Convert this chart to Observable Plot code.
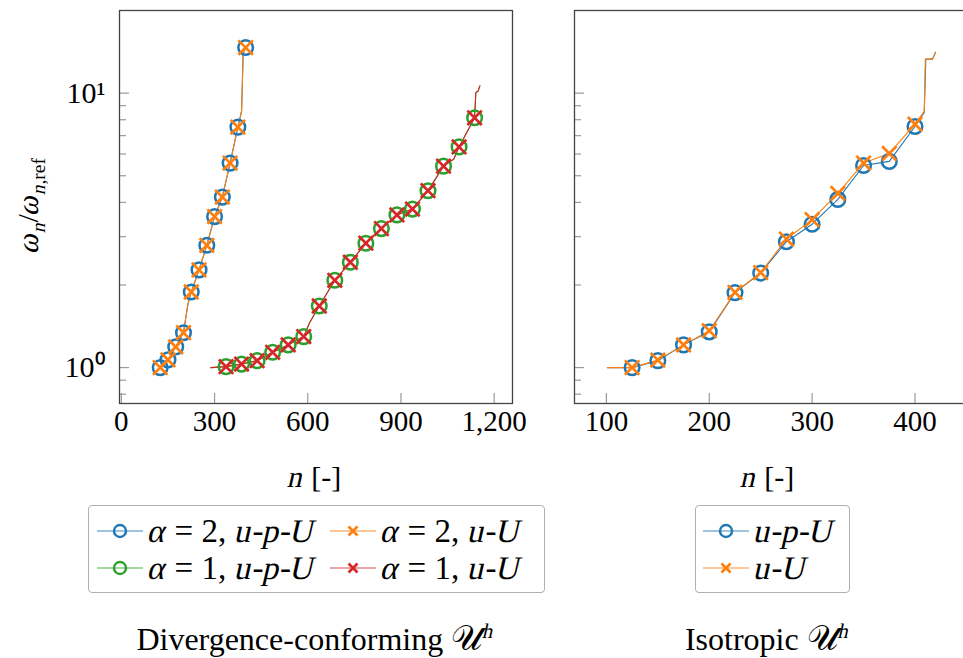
<!DOCTYPE html>
<html>
<head>
<meta charset="utf-8">
<script src="https://cdn.jsdelivr.net/npm/d3@7"></script>
<script src="https://cdn.jsdelivr.net/npm/@observablehq/plot@0.6"></script>
<style>
  html, body { margin: 0; padding: 0; background: #fff; }
  body { width: 963px; height: 658px; overflow: hidden; position: relative; font-family: "Liberation Serif", serif; color: #000; }
  #wrap { position: absolute; left: 0; top: 0; width: 963px; height: 658px; overflow: hidden; }
  .panel { position: absolute; top: 0; }
  .lbl { position: absolute; font-size: 28px; white-space: nowrap; }
  .legend { position: absolute; border: 1px solid #b0b0b0; border-radius: 4px; background: #fff; }
  .entry { position: absolute; height: 34px; display: flex; align-items: center; font-size: 33px; white-space: nowrap; }
  .entry svg { margin-right: 6px; }
  /* math italic: the serif italic face is not installed, so slant the upright serif */
  i { font-style: normal; display: inline-block; transform: skewX(-13deg); }
  sub, sup { font-size: 65%; }
  .eq { margin: 0 0.25em; }
  .cm { margin-right: 0.3em; }
</style>
</head>
<body>
<div id="wrap"></div>
<script>
// ---------------- data ----------------
// Divergence-conforming, alpha = 2 (markers)
const a2_n      = [125, 150, 175, 200, 225, 250, 275, 300, 325, 350, 375, 400];
const a2_upU    = [1.00, 1.067, 1.19, 1.34, 1.886, 2.27, 2.79, 3.55, 4.18, 5.56, 7.52, 14.66];
const a2_uU     = [1.00, 1.067, 1.19, 1.34, 1.886, 2.27, 2.79, 3.55, 4.18, 5.56, 7.52, 14.66];
// alpha = 2 curve (full eigenvalue curve)
const a2_line_n = [124, 150, 175, 200, 214, 225, 250, 275, 300, 325, 350, 375, 387, 392, 400];
const a2_line_w = [1.00, 1.067, 1.19, 1.34, 1.70, 1.886, 2.27, 2.79, 3.55, 4.18, 5.56, 7.52, 8.6, 13.9, 14.66];
// Divergence-conforming, alpha = 1 (markers)
const a1_n      = [337, 387, 437, 487, 537, 587, 637, 687, 737, 787, 837, 887, 937, 987, 1037, 1087, 1137];
const a1_upU    = [1.008, 1.03, 1.06, 1.137, 1.21, 1.297, 1.677, 2.08, 2.42, 2.84, 3.21, 3.60, 3.78, 4.41, 5.42, 6.37, 8.13];
const a1_uU     = [1.008, 1.03, 1.06, 1.137, 1.21, 1.297, 1.677, 2.08, 2.42, 2.84, 3.21, 3.60, 3.78, 4.41, 5.42, 6.37, 8.13];
// alpha = 1 curve
const a1_line_n = [288, 337, 387, 437, 487, 537, 587, 605, 637, 687, 737, 787, 837, 887, 937, 987, 1037, 1070, 1087, 1137, 1141, 1148, 1154];
const a1_line_w = [1.00, 1.008, 1.03, 1.06, 1.137, 1.21, 1.297, 1.45, 1.677, 2.08, 2.42, 2.84, 3.21, 3.60, 3.78, 4.41, 5.42, 5.75, 6.37, 8.13, 10.05, 10.15, 10.63];
// Isotropic (markers)
const iso_n     = [125, 150, 175, 200, 225, 250, 275, 300, 325, 350, 375, 400];
const iso_upU   = [1.00, 1.06, 1.21, 1.35, 1.875, 2.21, 2.875, 3.33, 4.10, 5.45, 5.64, 7.56];
const iso_uU    = [1.00, 1.065, 1.21, 1.363, 1.88, 2.22, 2.94, 3.46, 4.31, 5.56, 6.03, 7.71];
// Isotropic curves
const iso_upU_line_n = [101, 125, 150, 175, 200, 225, 250, 275, 300, 325, 350, 375, 400, 409, 410.5, 417, 420];
const iso_upU_line_w = [1.00, 1.00, 1.06, 1.21, 1.35, 1.875, 2.21, 2.875, 3.33, 4.10, 5.45, 5.64, 7.56, 8.5, 13.3, 13.3, 14.1];
const iso_uU_line_n  = [101, 125, 150, 175, 200, 225, 250, 275, 300, 325, 350, 375, 400, 409, 410, 417, 420];
const iso_uU_line_w  = [1.00, 1.00, 1.065, 1.21, 1.363, 1.88, 2.22, 2.94, 3.46, 4.31, 5.56, 6.03, 7.71, 8.6, 13.3, 13.3, 14.1];

const leftXTicks  = [0, 300, 600, 900, 1200];
const rightXTicks = [100, 200, 300, 400];
const yMajor = [1, 10];
const yMinor = [0.8, 0.9, 2, 3, 4, 5, 6, 7, 8, 9];
const yMajorLabels = ["10\u2070", "10\u00b9"];

const C = { blue: "#1f77b4", orange: "#ff7f0e", green: "#2ca02c", red: "#d62728" };

const zip = (xs, ys) => xs.map((x, i) => ({ n: x, w: ys[i] }));

// ---------------- geometry ----------------
const H = 460, MT = 10, MB = 57;
const innerH = H - MT - MB;

function panel({ width, ml, mr, xDomain, xTicks, xFormat, showYLabels, marks }) {
  const innerW = width - ml - mr;
  return Plot.plot({
    width, height: H, marginLeft: ml, marginRight: mr, marginTop: MT, marginBottom: MB,
    style: { fontFamily: "'Liberation Serif', serif", background: "transparent", overflow: "visible", color: "#000" },
    x: { domain: xDomain },
    y: { type: "log", domain: [0.74, 20] },
    marks: [
      Plot.ruleX(xTicks, { stroke: "#9a9a9a", strokeWidth: 1.2, insetTop: innerH - 10 }),
      Plot.ruleY(yMajor, { stroke: "#9a9a9a", strokeWidth: 1.2, insetRight: innerW - 10 }),
      Plot.ruleY(yMinor, { stroke: "#9a9a9a", strokeWidth: 1.2, insetRight: innerW - 7 }),
      ...marks,
      Plot.frame({ stroke: "#444", strokeWidth: 1.3 }),
      Plot.axisX(xTicks, { tickSize: 0, tickPadding: 7, tickFormat: xFormat, fontSize: 29, label: null }),
      showYLabels
        ? Plot.axisY(yMajor, { tickSize: 0, tickPadding: 14, tickFormat: d => yMajorLabels[yMajor.indexOf(d)], fontSize: 30, label: null })
        : Plot.axisY(yMajor, { tickSize: 0, tickFormat: () => "", label: null })
    ]
  });
}

const circ = (data, color) => Plot.dot(data, { x: "n", y: "w", r: 7.3, stroke: color, strokeWidth: 2.5, fill: "none" });
const times = (data, color) => Plot.dot(data, { x: "n", y: "w", r: 6.6, symbol: "times", stroke: color, strokeWidth: 2.7 });
const line = (data, color) => Plot.line(data, { x: "n", y: "w", stroke: color, strokeWidth: 1.1 });

const left = panel({
  width: 530, ml: 119, mr: 18, xDomain: [-6, 1259], xTicks: leftXTicks, xFormat: d3.format(","), showYLabels: true,
  marks: [
    line(zip(a2_line_n, a2_line_w), C.blue),
    line(zip(a2_line_n, a2_line_w), C.orange),
    line(zip(a1_line_n, a1_line_w), C.green),
    line(zip(a1_line_n, a1_line_w), C.red),
    circ(zip(a2_n, a2_upU), C.blue),
    times(zip(a2_n, a2_uU), C.orange),
    circ(zip(a1_n, a1_upU), C.green),
    times(zip(a1_n, a1_uU), C.red)
  ]
});

const right = panel({
  width: 540, ml: 114, mr: 32, xDomain: [69, 452], xTicks: rightXTicks, xFormat: d3.format("d"), showYLabels: false,
  marks: [
    line(zip(iso_upU_line_n, iso_upU_line_w), C.blue),
    line(zip(iso_uU_line_n, iso_uU_line_w), C.orange),
    circ(zip(iso_n, iso_upU), C.blue),
    times(zip(iso_n, iso_uU), C.orange)
  ]
});

const wrap = document.getElementById("wrap");
left.classList.add("panel"); left.style.left = "0px";
right.classList.add("panel"); right.style.left = "460px";
wrap.appendChild(left);
wrap.appendChild(right);

// ---------------- labels ----------------
function addLabel(html, x, y, opts = {}) {
  const d = document.createElement("div");
  d.className = "lbl";
  d.innerHTML = html;
  d.style.left = x + "px";
  d.style.top = y + "px";
  if (opts.size) d.style.fontSize = opts.size + "px";
  d.style.transform = opts.rotate ? "translate(-50%,-50%) rotate(-90deg)" : "translate(-50%,-50%)";
  wrap.appendChild(d);
}
const scriptU = '<span style="font-size:108%">𝒰</span>';
addLabel('<i>ω</i><sub><i>n</i></sub>/<i>ω</i><sub><i>n</i>,ref</sub>', 30, 205, { rotate: true, size: 30 });
addLabel('<i>n</i> [-]', 315, 477, { size: 30 });
addLabel('<i>n</i> [-]', 768, 477, { size: 30 });
addLabel('Divergence-conforming ' + scriptU + '<sup><i>h</i></sup>', 315, 639, { size: 32 });
addLabel('Isotropic ' + scriptU + '<sup><i>h</i></sup>', 767, 639, { size: 32 });

// ---------------- legends ----------------
function swatch(color, symbol) {
  const s = d3.create("svg").attr("width", 46).attr("height", 20);
  s.append("line").attr("x1", 0).attr("x2", 46).attr("y1", 10).attr("y2", 10).attr("stroke", color).attr("stroke-width", 1.2).attr("opacity", 0.85);
  if (symbol === "circle") {
    s.append("circle").attr("cx", 23).attr("cy", 10).attr("r", 6).attr("fill", "none").attr("stroke", color).attr("stroke-width", 2.4);
  } else {
    s.append("path").attr("d", "M18.5,5.5L27.5,14.5M27.5,5.5L18.5,14.5").attr("stroke", color).attr("stroke-width", 2.6);
  }
  return s.node();
}
function legend(box, entries) {
  const L = document.createElement("div");
  L.className = "legend";
  Object.assign(L.style, { left: box.x + "px", top: box.y + "px", width: box.w + "px", height: box.h + "px" });
  entries.forEach(e => {
    const d = document.createElement("div");
    d.className = "entry";
    d.style.left = e.x + "px";
    d.style.top = e.y + "px";
    d.appendChild(swatch(e.color, e.symbol));
    const t = document.createElement("span");
    t.innerHTML = e.label;
    d.appendChild(t);
    L.appendChild(d);
  });
  wrap.appendChild(L);
}
const leftLegendLabels = [
  '<i>α</i><span class="eq">=</span>2,<span class="cm"></span><i>u</i>-<i>p</i>-<i>U</i>',
  '<i>α</i><span class="eq">=</span>2,<span class="cm"></span><i>u</i>-<i>U</i>',
  '<i>α</i><span class="eq">=</span>1,<span class="cm"></span><i>u</i>-<i>p</i>-<i>U</i>',
  '<i>α</i><span class="eq">=</span>1,<span class="cm"></span><i>u</i>-<i>U</i>'
];
const rightLegendLabels = ['<i>u</i>-<i>p</i>-<i>U</i>', '<i>u</i>-<i>U</i>'];
legend({ x: 88, y: 505, w: 455, h: 86 }, [
  { x: 8, y: 8, color: C.blue, symbol: "circle", label: leftLegendLabels[0] },
  { x: 241, y: 8, color: C.orange, symbol: "times", label: leftLegendLabels[1] },
  { x: 8, y: 45, color: C.green, symbol: "circle", label: leftLegendLabels[2] },
  { x: 241, y: 45, color: C.red, symbol: "times", label: leftLegendLabels[3] }
]);
legend({ x: 695, y: 505, w: 153, h: 86 }, [
  { x: 7, y: 8, color: C.blue, symbol: "circle", label: rightLegendLabels[0] },
  { x: 7, y: 45, color: C.orange, symbol: "times", label: rightLegendLabels[1] }
]);
</script>
</body>
</html>
